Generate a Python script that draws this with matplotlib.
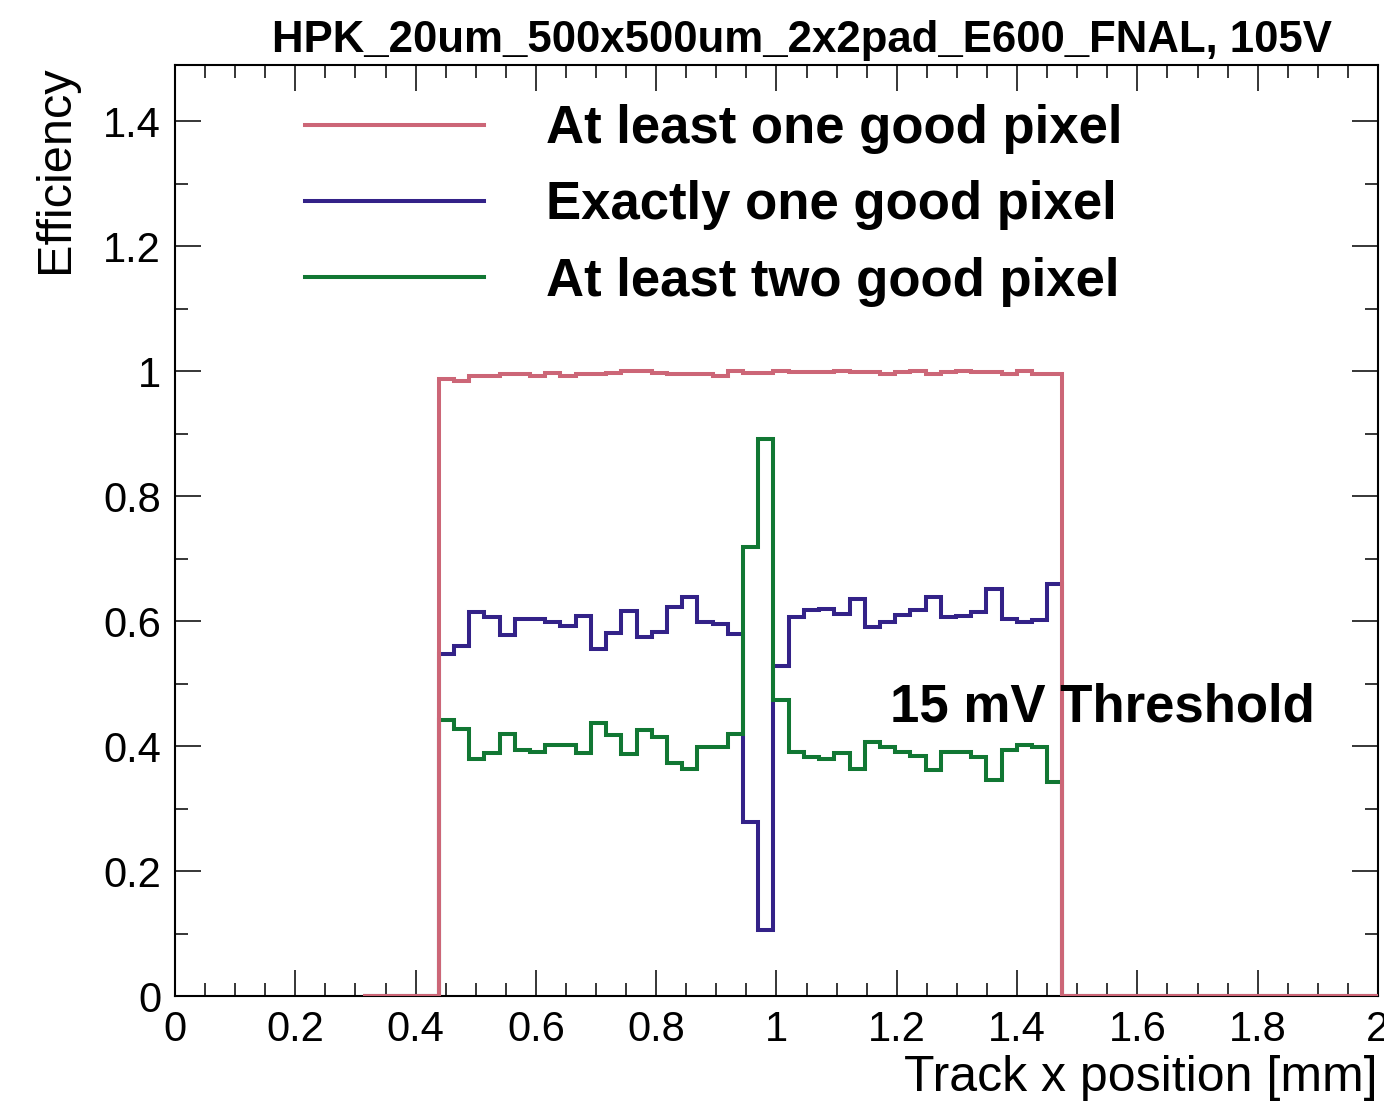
import numpy as np
import matplotlib
matplotlib.use("Agg")
import matplotlib.pyplot as plt
from matplotlib.lines import Line2D

plt.rcParams['font.family'] = ['Liberation Sans', 'DejaVu Sans']

# ---- data ----
title = "HPK_20um_500x500um_2x2pad_E600_FNAL, 105V"
x_label = "Track x position [mm]"
y_label = "Efficiency"
labels = ["At least one good pixel", "Exactly one good pixel", "At least two good pixel"]
annotation = "15 mV Threshold"

hist_low = 0.3121       # first bin edge [mm]
bin_width = 0.02529     # [mm]
n_bins = 68
first_filled_bin = 5

eff_at_least_one = [0.988, 0.985, 0.993, 0.993, 0.995, 0.995, 0.993, 0.997, 0.993, 0.995,
                    0.995, 0.997, 1.000, 1.000, 0.997, 0.996, 0.996, 0.996, 0.993, 1.000,
                    0.997, 0.997, 1.000, 0.998, 0.998, 0.998, 1.000, 0.998, 0.998, 0.996,
                    0.998, 1.000, 0.996, 0.999, 1.000, 0.998, 0.998, 0.995, 1.000, 0.996,
                    0.996]
eff_exactly_one = [0.548, 0.560, 0.615, 0.606, 0.578, 0.603, 0.603, 0.599, 0.592, 0.608,
                   0.556, 0.581, 0.616, 0.574, 0.583, 0.622, 0.638, 0.599, 0.595, 0.580,
                   0.279, 0.106, 0.528, 0.606, 0.617, 0.619, 0.611, 0.635, 0.591, 0.599,
                   0.610, 0.617, 0.639, 0.607, 0.608, 0.615, 0.652, 0.603, 0.599, 0.602,
                   0.659]
eff_at_least_two = [0.442, 0.428, 0.380, 0.389, 0.419, 0.394, 0.391, 0.402, 0.402, 0.389,
                    0.437, 0.418, 0.387, 0.426, 0.415, 0.373, 0.363, 0.399, 0.399, 0.420,
                    0.719, 0.891, 0.474, 0.391, 0.383, 0.379, 0.389, 0.364, 0.407, 0.399,
                    0.391, 0.384, 0.362, 0.391, 0.391, 0.383, 0.345, 0.394, 0.402, 0.398,
                    0.343]

x_ticks = [0, 0.2, 0.4, 0.6, 0.8, 1.0, 1.2, 1.4, 1.6, 1.8, 2.0]
x_ticklabels = ["0", "0.2", "0.4", "0.6", "0.8", "1", "1.2", "1.4", "1.6", "1.8", "2"]
y_ticks = [0, 0.2, 0.4, 0.6, 0.8, 1.0, 1.2, 1.4]
y_ticklabels = ["0", "0.2", "0.4", "0.6", "0.8", "1", "1.2", "1.4"]

colors = ["#CC6677", "#332288", "#117733"]

# ---- build histograms ----
edges = hist_low + bin_width * np.arange(n_bins + 1)

def full(vals):
    arr = np.zeros(n_bins)
    arr[first_filled_bin:first_filled_bin + len(vals)] = vals
    return arr

W, H = 1384, 1106
fig = plt.figure(figsize=(W / 100, H / 100), dpi=100)
ax = fig.add_axes([175/W, 1 - 996/H, (1378-175)/W, (996-65)/H])

lw = 2.9
ax.stairs(full(eff_exactly_one), edges, baseline=None, color=colors[1], lw=lw, zorder=2)
ax.stairs(full(eff_at_least_two), edges, baseline=None, color=colors[2], lw=lw, zorder=3)
ax.stairs(full(eff_at_least_one), edges, baseline=None, color=colors[0], lw=lw, zorder=4)

ax.set_xlim(0, 2.0)
ax.set_ylim(0, 1.49)

ax.set_xticks(x_ticks)
ax.set_xticklabels(x_ticklabels)
ax.set_yticks(y_ticks)
ax.set_yticklabels(y_ticklabels)
ax.set_xticks(np.arange(0, 2.001, 0.05), minor=True)
ax.set_yticks(np.arange(0, 1.49, 0.1), minor=True)

ax.tick_params(which='both', direction='in', top=True, right=True, width=1.1)
ax.tick_params(which='major', length=19, labelsize=30, pad=10)
ax.tick_params(which='minor', length=9.5)
for s in ax.spines.values():
    s.set_linewidth(1.5)

ax.set_xlabel(x_label, fontsize=36, loc='right', labelpad=4)
ax.set_ylabel(y_label, fontsize=35, loc='top', labelpad=18)

fig.text(802/W, 1 - 52/H, title, fontsize=31.5, fontweight='bold',
         ha='center', va='baseline')

handles = [Line2D([], [], color=c, lw=lw) for c in colors]
ax.legend(handles, labels, loc='upper left', frameon=False,
          bbox_to_anchor=(305/W, 1 - 104/H), bbox_transform=fig.transFigure,
          prop={'size': 38, 'weight': 'bold'}, handlelength=3.4, handletextpad=1.17,
          labelspacing=0.5, borderpad=0, borderaxespad=0)

fig.text(890/W, 1 - 708/H, annotation, fontsize=38, fontweight='bold',
         ha='left', va='center')

fig.savefig("out.png", dpi=100)
